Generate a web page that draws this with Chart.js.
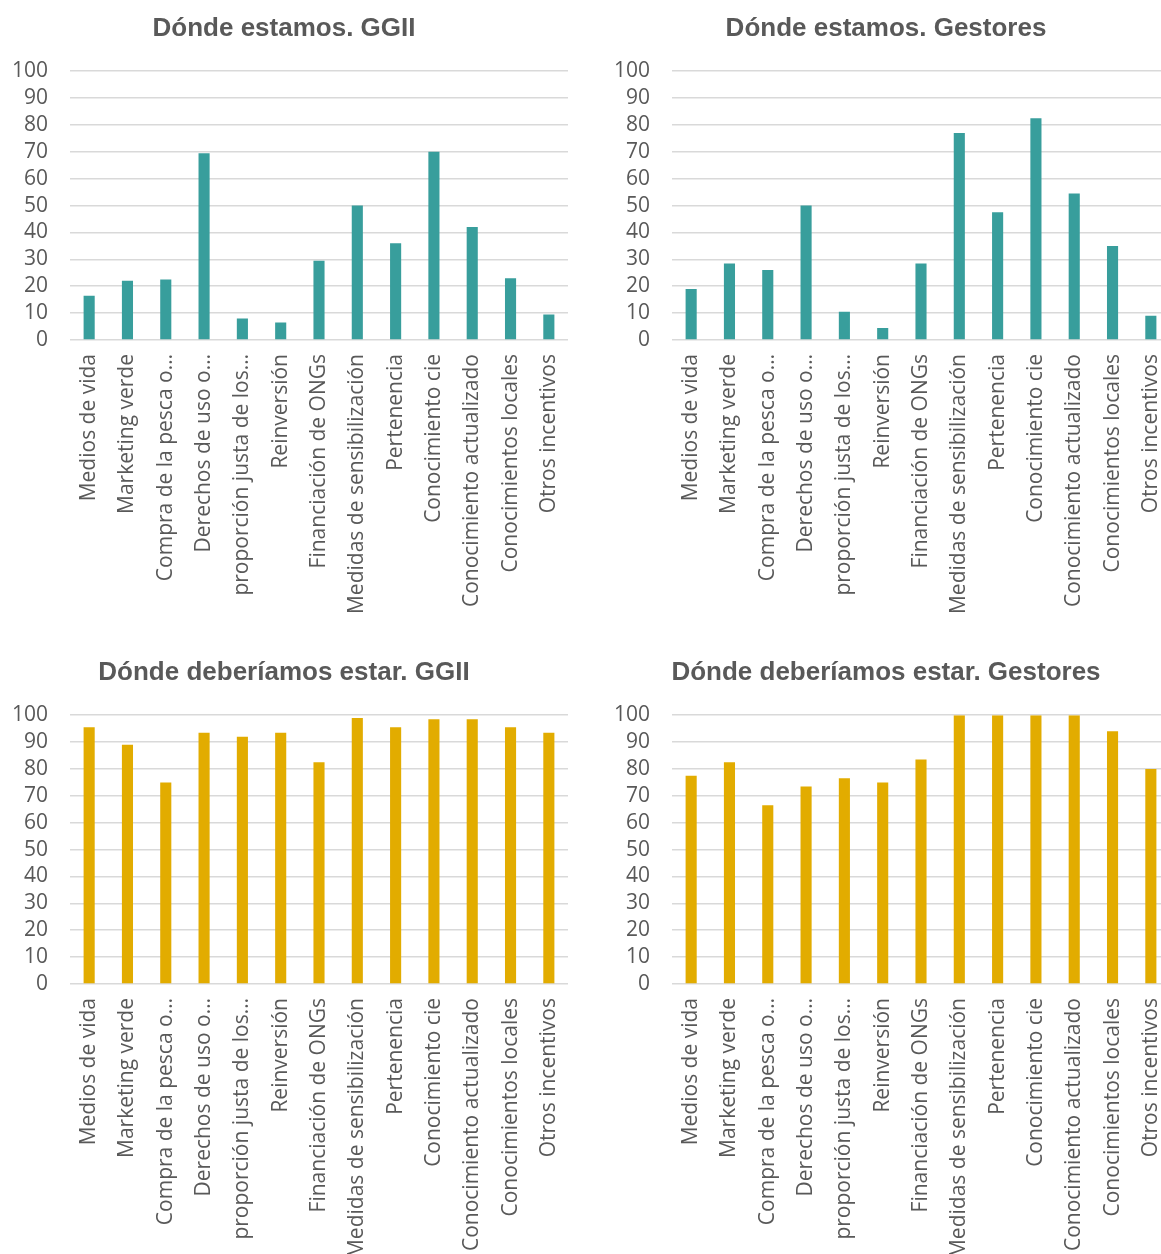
<!DOCTYPE html>
<html>
<head>
<meta charset="utf-8">
<script src="https://cdn.jsdelivr.net/npm/chart.js@4.4.1/dist/chart.umd.min.js"></script>
<style>
  html, body { margin: 0; padding: 0; background: #ffffff; }
  body { width: 1161px; height: 1254px; overflow: hidden; position: relative; }
  .panel { position: absolute; width: 568px; height: 640px; }
  .panel canvas { display: block; }
</style>
</head>
<body>
<div class="panel" id="p1" style="left:0px; top:0px;"><canvas id="c1"></canvas></div>
<div class="panel" id="p2" style="left:602px; top:0px;"><canvas id="c2"></canvas></div>
<div class="panel" id="p3" style="left:0px; top:644px;"><canvas id="c3"></canvas></div>
<div class="panel" id="p4" style="left:602px; top:644px;"><canvas id="c4"></canvas></div>
<script>
// Category labels (shortened ones keep their ellipsis as shown on the axis)
const categories = [
  "Medios de vida",
  "Marketing verde",
  "Compra de la pesca o…",
  "Derechos de uso o…",
  "proporción justa de los…",
  "Reinversión",
  "Financiación de ONGs",
  "Medidas de sensibilización",
  "Pertenencia",
  "Conocimiento cie",
  "Conocimiento actualizado",
  "Conocimientos locales",
  "Otros incentivos"
];

// Dónde estamos (percent)
const estamosGGII     = [16.5, 22, 22.5, 69.5, 8, 6.5, 29.5, 50, 36, 70, 42, 23, 9.5];
const estamosGestores = [19, 28.5, 26, 50, 10.5, 4.5, 28.5, 77, 47.5, 82.5, 54.5, 35, 9];

// Dónde deberíamos estar (percent)
const deberiamosGGII     = [95.5, 89, 75, 93.5, 92, 93.5, 82.5, 99, 95.5, 98.5, 98.5, 95.5, 93.5];
const deberiamosGestores = [77.5, 82.5, 66.5, 73.5, 76.5, 75, 83.5, 100, 100, 100, 100, 94, 80];

const titles = [
  "Dónde estamos. GGII",
  "Dónde estamos. Gestores",
  "Dónde deberíamos estar. GGII",
  "Dónde deberíamos estar. Gestores"
];

const yTicks = [0, 10, 20, 30, 40, 50, 60, 70, 80, 90, 100];

const TEAL = "#389E9C";
const GOLD = "#E2AC00";
const TEXT = "#595959";
const GRID = "#D9D9D9";

function makeChart(canvasId, title, values, color) {
  const ctx = document.getElementById(canvasId);
  return new Chart(ctx, {
    type: "bar",
    data: {
      labels: categories,
      datasets: [{
        data: values,
        backgroundColor: color,
        borderWidth: 0,
        categoryPercentage: 1,
        barPercentage: 0.29
      }]
    },
    options: {
      responsive: true,
      maintainAspectRatio: false,
      animation: false,
      layout: { padding: 0 },
      plugins: {
        legend: { display: false },
        tooltip: { enabled: false },
        title: {
          display: true,
          text: title,
          color: TEXT,
          font: { family: "'Liberation Sans', Arial, sans-serif", size: 26, weight: "bold", lineHeight: 1.2 },
          padding: { top: 13, bottom: 27 }
        }
      },
      scales: {
        x: {
          grid: { display: false, drawTicks: false },
          border: { display: false },
          ticks: {
            color: TEXT,
            font: { family: "'Open Sans', sans-serif", size: 21 },
            minRotation: 90,
            maxRotation: 90,
            autoSkip: false,
            padding: 14
          },
          afterFit(scale) {
            scale.height = 300;
            scale.paddingLeft = 0;
            scale.paddingRight = 0;
          }
        },
        y: {
          min: 0,
          max: 100,
          afterBuildTicks(scale) { scale.ticks = yTicks.map(v => ({ value: v })); },
          grid: { color: GRID, lineWidth: 1.5, drawTicks: false },
          border: { display: false },
          ticks: {
            color: TEXT,
            font: { family: "'Open Sans', sans-serif", size: 21 },
            autoSkip: false,
            padding: 22
          },
          afterFit(scale) {
            scale.width = 70;
            scale.paddingTop = 0;
            scale.paddingBottom = 0;
          }
        }
      }
    }
  });
}

makeChart("c1", titles[0], estamosGGII, TEAL);
makeChart("c2", titles[1], estamosGestores, TEAL);
makeChart("c3", titles[2], deberiamosGGII, GOLD);
makeChart("c4", titles[3], deberiamosGestores, GOLD);
</script>
</body>
</html>
